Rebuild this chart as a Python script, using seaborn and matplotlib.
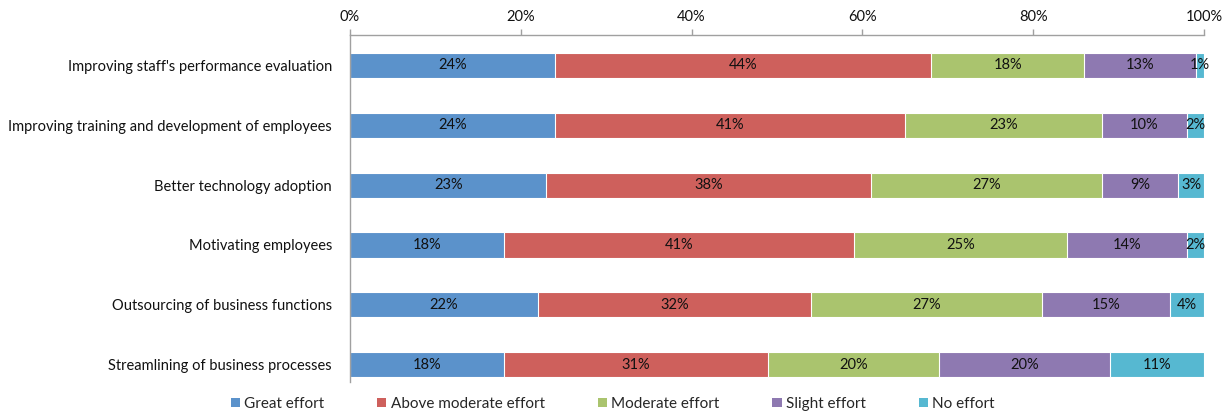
import matplotlib
matplotlib.use("Agg")
import matplotlib.pyplot as plt
from matplotlib.patches import Patch
import numpy as np
import pandas as pd
import seaborn as sns

sns.set_theme(style="white")
plt.rcParams["font.family"] = ["Lato", "DejaVu Sans"]

categories = [
    "Improving staff's performance evaluation",
    "Improving training and development of employees",
    "Better technology adoption",
    "Motivating employees",
    "Outsourcing of business functions",
    "Streamlining of business processes",
]
series_names = ["Great effort", "Above moderate effort", "Moderate effort",
                "Slight effort", "No effort"]
great_effort = [24, 24, 23, 18, 22, 18]
above_moderate = [44, 41, 38, 41, 32, 31]
moderate = [18, 23, 27, 25, 27, 20]
slight = [13, 10, 9, 14, 15, 20]
no_effort = [1, 2, 3, 2, 4, 11]
tick_values = [0, 20, 40, 60, 80, 100]
tick_labels = ["0%", "20%", "40%", "60%", "80%", "100%"]

colors = ["#5B92CB", "#CE605C", "#AAC46E", "#8E79B1", "#56B8D1"]

values = np.array([great_effort, above_moderate, moderate, slight, no_effort], dtype=float)
cumulative = values.cumsum(axis=0)

fig = plt.figure(figsize=(12.28, 4.13), dpi=100)
ax = fig.add_axes([0.285, 0.0751, 0.6955, 0.8402])

# Stack segments by drawing cumulative totals from the longest down
for i in range(len(series_names) - 1, -1, -1):
    df = pd.DataFrame({"category": categories, "value": cumulative[i]})
    sns.barplot(data=df, x="value", y="category", orient="h", color=colors[i],
                saturation=1, width=0.42, edgecolor="white", linewidth=0.8,
                ax=ax)

# Segment value labels
for i in range(len(series_names)):
    for j in range(len(categories)):
        center = cumulative[i, j] - values[i, j] / 2
        ax.text(center, j, f"{int(values[i, j])}%", ha="center", va="center",
                fontsize=10.5, color="#111111")

ax.set_xlim(0, 100)
ax.set_ylim(5.29, -0.51)
ax.set_xlabel("")
ax.set_ylabel("")
ax.xaxis.tick_top()
ax.set_xticks(tick_values)
ax.set_xticklabels(tick_labels, fontsize=10.5, color="#111111")
ax.tick_params(axis="x", direction="out", length=4, width=1, color="#A0A0A0", pad=4)
ax.tick_params(axis="y", length=0, pad=13, labelsize=10.5, labelcolor="#111111")

for side in ["right", "bottom"]:
    ax.spines[side].set_visible(False)
for side in ["top", "left"]:
    ax.spines[side].set_visible(True)
    ax.spines[side].set_color("#A0A0A0")
    ax.spines[side].set_linewidth(1)

handles = [Patch(facecolor=c, edgecolor="none", label=n) for c, n in zip(colors, series_names)]
fig.legend(handles=handles, loc="center", bbox_to_anchor=(0.499, 0.022), ncol=5,
           frameon=False, fontsize=11, handlelength=0.6, handleheight=0.6,
           handletextpad=0.3, columnspacing=3.45, borderaxespad=0)

fig.savefig("out.png", dpi=100)
